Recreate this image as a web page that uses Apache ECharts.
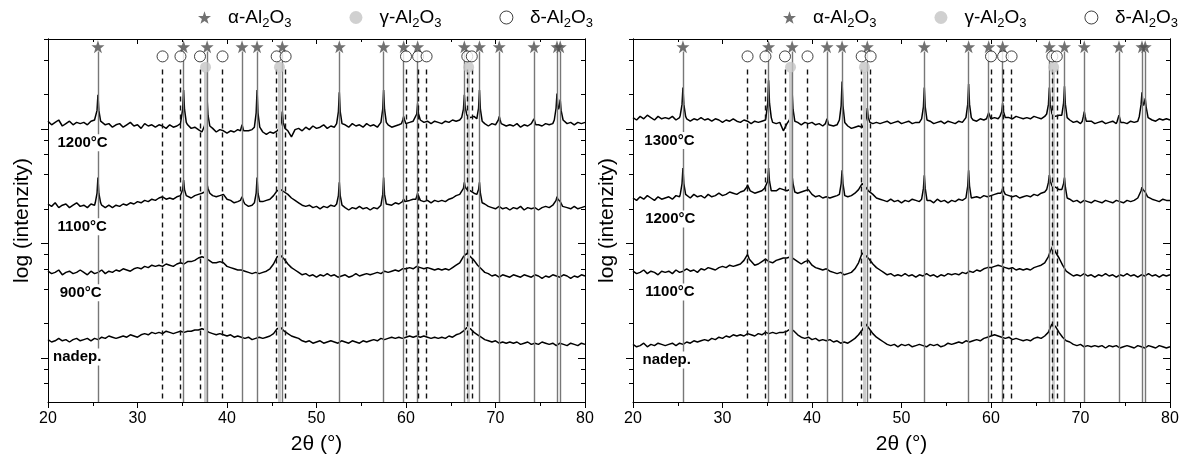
<!DOCTYPE html>
<html>
<head>
<meta charset="utf-8">
<script src="https://cdn.jsdelivr.net/npm/echarts@6/dist/echarts.min.js"></script>
<style>
html,body{margin:0;padding:0;background:#fff}
#chart{width:1191px;height:463px}
</style>
</head>
<body>
<div id="chart"></div>
<script>
// XRD scans: 2theta 20-80 deg, step 0.4, values = log(intensity) incl. stack offset
var start = 20, step = 0.4;

// reference positions (2theta)
var alphaPos = [25.58, 35.15, 37.78, 41.68, 43.36, 46.18, 52.55, 57.50, 59.74, 61.30, 66.52, 68.21, 70.42, 74.30, 76.87, 77.23];
var gammaPos = [37.6, 45.86, 67.0];
var deltaPos = [32.8, 34.8, 36.98, 39.5, 45.55, 46.55, 60.0, 61.35, 62.3, 66.85, 67.35];

// log ticks: decades and 2,4,6,8 in between
var yMajor = [1.207, 2.162, 3.117];
var yMinor = [0.995, 1.114, 1.494, 1.782, 1.950, 2.069, 2.449, 2.737, 2.905, 3.024, 3.404, 3.692, 3.86];

// left panel
var L1200 = [
3.18,3.15,3.17,3.19,3.14,3.16,3.18,3.15,3.17,3.16,
3.17,3.15,3.18,3.19,3.16,3.17,3.15,3.16,3.13,3.15,
3.16,3.13,3.15,3.17,3.14,3.15,3.12,3.16,3.14,3.15,
3.13,3.15,3.14,3.12,3.15,3.13,3.14,3.16,3.20,3.15,
3.12,3.13,3.11,3.09,3.15,3.12,3.12,3.09,3.11,3.10,
3.08,3.10,3.09,3.11,3.11,3.09,3.10,3.11,3.10,3.10,
3.09,3.07,3.09,3.08,3.10,3.10,3.10,3.10,3.05,3.11,
3.12,3.10,3.13,3.11,3.14,3.12,3.13,3.15,3.12,3.14,
3.13,3.13,3.14,3.15,3.13,3.16,3.14,3.15,3.13,3.16,
3.14,3.15,3.13,3.15,3.15,3.15,3.13,3.14,3.15,3.15,
3.17,3.17,3.18,3.18,3.18,3.17,3.18,3.16,3.18,3.17,
3.16,3.18,3.17,3.19,3.18,3.19,3.20,3.21,3.21,3.22,
3.20,3.18,3.16,3.14,3.16,3.15,3.15,3.16,3.14,3.15,
3.14,3.16,3.13,3.15,3.14,3.16,3.15,3.15,3.14,3.16,
3.15,3.16,3.18,3.18,3.18,3.16,3.17,3.15,3.17,3.16,
3.17];
var L1200pk = [
[[25.28,3.18],[25.48,3.27],[25.58,3.40],[25.68,3.27],[25.88,3.18]],
[[34.85,3.17],[35.05,3.28],[35.15,3.44],[35.25,3.28],[35.45,3.17]],
[[37.48,3.14],[37.68,3.23],[37.78,3.36],[37.88,3.23],[38.08,3.14]],
[[41.5,3.10],[41.68,3.15],[41.86,3.10]],
[[43.06,3.13],[43.26,3.25],[43.36,3.44],[43.46,3.25],[43.66,3.13]],
[[45.88,3.12],[46.08,3.17],[46.18,3.26],[46.28,3.17],[46.48,3.12]],
[[52.25,3.16],[52.45,3.26],[52.55,3.42],[52.65,3.26],[52.85,3.16]],
[[57.2,3.17],[57.4,3.28],[57.5,3.44],[57.6,3.28],[57.8,3.17]],
[[59.5,3.16],[59.64,3.19],[59.74,3.22],[59.84,3.19],[59.98,3.16]],
[[61.0,3.19],[61.2,3.24],[61.3,3.33],[61.4,3.24],[61.6,3.19]],
[[66.22,3.21],[66.42,3.28],[66.52,3.40],[66.62,3.29],[66.82,3.23]],
[[67.91,3.20],[68.11,3.29],[68.21,3.44],[68.31,3.28],[68.51,3.18]],
[[70.2,3.16],[70.32,3.19],[70.42,3.22],[70.52,3.19],[70.64,3.16]],
[[74.1,3.15],[74.3,3.20],[74.5,3.15]],
[[76.57,3.19],[76.77,3.29],[76.87,3.41],[76.97,3.30],[77.05,3.28],[77.13,3.30],[77.23,3.36],[77.33,3.27],[77.55,3.19]]
];

var L1100 = [
2.49,2.47,2.50,2.46,2.48,2.49,2.46,2.48,2.50,2.47,
2.48,2.46,2.49,2.48,2.50,2.48,2.46,2.48,2.46,2.48,
2.47,2.49,2.48,2.50,2.49,2.51,2.50,2.52,2.51,2.53,
2.52,2.54,2.55,2.53,2.54,2.53,2.55,2.56,2.60,2.55,
2.54,2.56,2.57,2.58,2.60,2.60,2.56,2.55,2.56,2.57,
2.53,2.52,2.50,2.51,2.52,2.49,2.47,2.48,2.50,2.50,
2.51,2.52,2.53,2.56,2.60,2.61,2.59,2.57,2.54,2.52,
2.50,2.48,2.47,2.48,2.46,2.47,2.45,2.47,2.46,2.48,
2.47,2.47,2.47,2.46,2.44,2.46,2.45,2.47,2.45,2.46,
2.44,2.46,2.45,2.47,2.47,2.49,2.48,2.50,2.49,2.51,
2.51,2.52,2.53,2.54,2.52,2.51,2.52,2.50,2.52,2.51,
2.52,2.51,2.53,2.54,2.56,2.57,2.60,2.61,2.60,2.58,
2.55,2.52,2.49,2.47,2.46,2.45,2.47,2.45,2.46,2.44,
2.46,2.45,2.47,2.44,2.46,2.45,2.46,2.44,2.46,2.47,
2.46,2.48,2.50,2.50,2.48,2.46,2.45,2.47,2.45,2.46,
2.47];
var L1100pk = [
[[25.28,2.50],[25.48,2.58],[25.58,2.71],[25.68,2.58],[25.88,2.50]],
[[34.85,2.56],[35.05,2.61],[35.15,2.69],[35.25,2.61],[35.45,2.56]],
[[37.48,2.59],[37.68,2.62],[37.78,2.65],[37.88,2.62],[38.08,2.58]],
[[41.5,2.52],[41.68,2.55],[41.86,2.51]],
[[43.06,2.50],[43.26,2.58],[43.36,2.71],[43.46,2.58],[43.66,2.51]],
[[52.25,2.49],[52.45,2.56],[52.55,2.67],[52.65,2.56],[52.85,2.48]],
[[57.2,2.48],[57.4,2.57],[57.5,2.71],[57.6,2.57],[57.8,2.49]],
[[59.6,2.51],[59.74,2.53],[59.88,2.51]],
[[61.1,2.53],[61.22,2.56],[61.3,2.58],[61.38,2.56],[61.6,2.52]],
[[66.22,2.58],[66.42,2.62],[66.52,2.67],[66.62,2.63],[66.82,2.61]],
[[67.91,2.57],[68.11,2.61],[68.21,2.67],[68.31,2.58],[68.51,2.50]],
[[76.57,2.48],[76.77,2.52],[76.87,2.55],[76.97,2.53],[77.23,2.51],[77.5,2.47]]
];

var L900 = [
1.93,1.91,1.92,1.94,1.90,1.92,1.93,1.91,1.92,1.94,
1.92,1.90,1.93,1.91,1.92,1.94,1.91,1.93,1.92,1.94,
1.93,1.95,1.94,1.93,1.95,1.96,1.95,1.97,1.96,1.98,
1.97,1.98,1.97,1.99,1.98,1.97,1.99,2.00,1.99,2.01,
2.01,2.02,2.04,2.05,2.04,2.02,2.00,2.00,2.01,2.00,
1.97,1.96,1.95,1.94,1.94,1.93,1.92,1.91,1.92,1.91,
1.92,1.93,1.95,1.99,2.05,2.06,2.03,1.99,1.96,1.94,
1.92,1.90,1.91,1.89,1.90,1.88,1.90,1.89,1.91,1.89,
1.90,1.88,1.89,1.90,1.88,1.89,1.91,1.89,1.90,1.91,
1.90,1.91,1.92,1.91,1.93,1.92,1.93,1.94,1.93,1.95,
1.95,1.96,1.95,1.97,1.96,1.95,1.96,1.95,1.94,1.95,
1.94,1.95,1.94,1.96,1.98,2.00,2.05,2.08,2.05,2.02,
1.98,1.95,1.92,1.91,1.89,1.90,1.88,1.90,1.89,1.88,
1.90,1.89,1.88,1.90,1.89,1.88,1.90,1.89,1.87,1.89,
1.88,1.90,1.89,1.88,1.90,1.89,1.87,1.89,1.88,1.90,
1.89];

var L0 = [
1.36,1.34,1.35,1.37,1.35,1.36,1.34,1.36,1.37,1.35,
1.36,1.37,1.35,1.37,1.36,1.38,1.37,1.39,1.38,1.37,
1.38,1.39,1.38,1.40,1.39,1.38,1.40,1.41,1.40,1.42,
1.41,1.42,1.41,1.43,1.42,1.41,1.42,1.43,1.42,1.43,
1.43,1.44,1.44,1.45,1.44,1.42,1.41,1.40,1.41,1.40,
1.39,1.40,1.38,1.39,1.38,1.37,1.38,1.36,1.37,1.38,
1.37,1.38,1.39,1.41,1.45,1.46,1.43,1.41,1.39,1.38,
1.37,1.35,1.34,1.35,1.33,1.34,1.35,1.33,1.34,1.35,
1.34,1.33,1.35,1.34,1.33,1.35,1.34,1.33,1.35,1.34,
1.35,1.36,1.35,1.37,1.36,1.37,1.38,1.37,1.38,1.37,
1.38,1.39,1.38,1.39,1.38,1.39,1.38,1.37,1.38,1.37,
1.38,1.37,1.39,1.38,1.40,1.41,1.43,1.46,1.45,1.42,
1.40,1.38,1.36,1.35,1.34,1.35,1.33,1.34,1.33,1.34,
1.33,1.34,1.32,1.33,1.34,1.32,1.33,1.32,1.34,1.33,
1.32,1.33,1.31,1.33,1.32,1.31,1.33,1.32,1.31,1.33,
1.32];

// right panel
var R1300 = [
3.21,3.19,3.22,3.20,3.23,3.21,3.19,3.22,3.20,3.21,
3.20,3.22,3.19,3.21,3.20,3.20,3.18,3.20,3.19,3.21,
3.19,3.20,3.18,3.20,3.19,3.17,3.19,3.18,3.20,3.18,
3.17,3.19,3.18,3.16,3.18,3.17,3.18,3.19,3.20,3.17,
3.16,3.17,3.10,3.16,3.20,3.20,3.17,3.15,3.17,3.16,
3.17,3.15,3.16,3.14,3.15,3.16,3.14,3.15,3.20,3.20,
3.14,3.12,3.13,3.14,3.13,3.20,3.20,3.16,3.17,3.16,
3.17,3.18,3.16,3.17,3.18,3.16,3.17,3.18,3.16,3.17,
3.17,3.20,3.20,3.18,3.16,3.17,3.18,3.16,3.18,3.17,
3.16,3.18,3.17,3.20,3.20,3.19,3.18,3.20,3.19,3.20,
3.20,3.21,3.20,3.20,3.20,3.21,3.20,3.22,3.21,3.20,
3.21,3.20,3.22,3.21,3.20,3.22,3.20,3.23,3.22,3.23,
3.20,3.20,3.19,3.17,3.18,3.16,3.20,3.17,3.18,3.16,
3.17,3.18,3.16,3.17,3.18,3.16,3.20,3.17,3.16,3.18,
3.17,3.18,3.20,3.20,3.20,3.19,3.18,3.20,3.19,3.20,
3.19];
var R1300pk = [
[[25.28,3.23],[25.48,3.32],[25.58,3.46],[25.68,3.32],[25.88,3.22]],
[[34.85,3.21],[35.05,3.33],[35.15,3.52],[35.25,3.33],[35.45,3.21]],
[[37.48,3.19],[37.68,3.28],[37.78,3.42],[37.88,3.28],[38.08,3.18]],
[[41.5,3.16],[41.68,3.20],[41.86,3.15]],
[[43.06,3.19],[43.26,3.31],[43.36,3.51],[43.46,3.31],[43.66,3.17]],
[[45.88,3.16],[46.08,3.21],[46.18,3.29],[46.28,3.21],[46.48,3.17]],
[[52.25,3.20],[52.45,3.30],[52.55,3.46],[52.65,3.30],[52.85,3.19]],
[[57.2,3.21],[57.4,3.32],[57.5,3.49],[57.6,3.32],[57.8,3.21]],
[[59.5,3.20],[59.64,3.23],[59.74,3.25],[59.84,3.23],[59.98,3.20]],
[[61.0,3.22],[61.2,3.26],[61.3,3.33],[61.4,3.26],[61.6,3.21]],
[[66.22,3.24],[66.42,3.32],[66.52,3.46],[66.62,3.32],[66.82,3.24]],
[[67.91,3.23],[68.11,3.33],[68.21,3.47],[68.31,3.32],[68.51,3.21]],
[[70.2,3.18],[70.32,3.22],[70.42,3.26],[70.52,3.22],[70.64,3.18]],
[[74.1,3.18],[74.3,3.23],[74.5,3.17]],
[[76.57,3.22],[76.77,3.32],[76.87,3.42],[76.97,3.33],[77.05,3.31],[77.13,3.33],[77.23,3.37],[77.33,3.30],[77.55,3.21]]
];

var R1200 = [
2.54,2.52,2.55,2.53,2.56,2.54,2.52,2.55,2.53,2.54,
2.55,2.53,2.56,2.55,2.60,2.56,2.54,2.57,2.55,2.56,
2.54,2.57,2.55,2.56,2.58,2.56,2.57,2.59,2.58,2.57,
2.59,2.60,2.62,2.60,2.58,2.59,2.60,2.62,2.60,2.59,
2.60,2.62,2.61,2.60,2.60,2.60,2.58,2.59,2.60,2.61,
2.57,2.55,2.56,2.54,2.55,2.54,2.55,2.56,2.60,2.60,
2.55,2.56,2.58,2.61,2.66,2.63,2.61,2.57,2.54,2.53,
2.52,2.51,2.53,2.51,2.52,2.50,2.52,2.51,2.53,2.52,
2.51,2.50,2.50,2.52,2.50,2.53,2.51,2.52,2.50,2.52,
2.51,2.53,2.52,2.50,2.50,2.54,2.55,2.54,2.56,2.55,
2.56,2.57,2.58,2.60,2.60,2.56,2.55,2.56,2.54,2.55,
2.56,2.55,2.57,2.56,2.58,2.59,2.60,2.60,2.63,2.61,
2.60,2.60,2.53,2.51,2.52,2.50,2.52,2.51,2.50,2.52,
2.51,2.50,2.52,2.51,2.50,2.52,2.51,2.50,2.52,2.51,
2.52,2.54,2.60,2.60,2.55,2.53,2.52,2.51,2.53,2.52,
2.52];
var R1200pk = [
[[25.28,2.57],[25.48,2.66],[25.58,2.79],[25.68,2.66],[25.88,2.57]],
[[32.5,2.60],[32.7,2.63],[32.8,2.65],[32.9,2.63],[33.1,2.60]],
[[34.5,2.60],[34.7,2.62],[34.9,2.62],[35.05,2.68],[35.15,2.79],[35.25,2.68],[35.45,2.60]],
[[37.48,2.61],[37.68,2.66],[37.78,2.72],[37.88,2.66],[38.08,2.59]],
[[43.06,2.57],[43.26,2.66],[43.36,2.77],[43.46,2.66],[43.66,2.56]],
[[46.05,2.62],[46.18,2.64],[46.3,2.60]],
[[52.25,2.53],[52.45,2.62],[52.55,2.73],[52.65,2.62],[52.85,2.52]],
[[57.2,2.54],[57.4,2.64],[57.5,2.77],[57.6,2.64],[57.8,2.54]],
[[61.1,2.58],[61.22,2.60],[61.3,2.62],[61.4,2.60],[61.6,2.57]],
[[66.22,2.61],[66.42,2.67],[66.52,2.73],[66.62,2.68],[66.82,2.64]],
[[67.91,2.61],[68.11,2.66],[68.21,2.71],[68.31,2.63],[68.51,2.54]],
[[76.57,2.54],[76.77,2.60],[76.87,2.63],[76.97,2.61],[77.23,2.59],[77.5,2.55]]
];

var R1100 = [
1.93,1.91,1.92,1.94,1.91,1.93,1.92,1.90,1.93,1.92,
1.93,1.91,1.94,1.92,1.93,1.95,1.93,1.94,1.92,1.95,
1.94,1.96,1.95,1.94,1.96,1.97,1.96,1.98,1.97,1.98,
1.99,2.02,2.06,2.02,1.98,1.99,2.01,2.03,2.01,2.00,
2.02,2.03,2.04,2.04,2.05,2.03,2.01,1.99,2.01,2.02,
1.98,1.96,1.95,1.94,1.95,1.93,1.92,1.91,1.92,1.90,
1.91,1.92,1.95,2.00,2.08,2.06,2.03,1.99,1.96,1.94,
1.92,1.90,1.91,1.89,1.90,1.89,1.91,1.89,1.90,1.88,
1.90,1.89,1.91,1.89,1.90,1.88,1.90,1.89,1.91,1.90,
1.91,1.90,1.92,1.91,1.93,1.92,1.94,1.93,1.95,1.96,
1.96,1.97,1.98,1.97,1.96,1.95,1.96,1.94,1.95,1.94,
1.95,1.94,1.96,1.97,1.98,2.00,2.05,2.13,2.09,2.04,
1.98,1.93,1.91,1.89,1.90,1.89,1.91,1.89,1.90,1.88,
1.90,1.89,1.91,1.89,1.90,1.88,1.90,1.89,1.91,1.89,
1.90,1.88,1.90,1.89,1.91,1.89,1.90,1.88,1.90,1.89,
1.90];
var R1100pk = [
[[32.6,2.03],[32.8,2.07],[33.0,2.03]],
[[66.6,2.09],[66.9,2.14],[67.1,2.11]]
];

var R0 = [
1.32,1.30,1.31,1.33,1.30,1.32,1.31,1.33,1.32,1.31,
1.32,1.33,1.31,1.33,1.32,1.34,1.33,1.35,1.34,1.35,
1.36,1.35,1.37,1.36,1.38,1.37,1.39,1.38,1.40,1.39,
1.40,1.39,1.41,1.40,1.39,1.41,1.40,1.42,1.41,1.42,
1.41,1.42,1.42,1.43,1.45,1.43,1.40,1.38,1.37,1.38,
1.36,1.37,1.35,1.36,1.35,1.36,1.34,1.35,1.33,1.34,
1.33,1.35,1.37,1.40,1.44,1.49,1.45,1.41,1.38,1.36,
1.34,1.32,1.31,1.32,1.30,1.32,1.31,1.32,1.30,1.31,
1.32,1.31,1.30,1.32,1.31,1.32,1.30,1.31,1.33,1.32,
1.33,1.34,1.33,1.35,1.34,1.35,1.36,1.35,1.37,1.38,
1.39,1.40,1.39,1.38,1.37,1.38,1.36,1.37,1.36,1.35,
1.36,1.35,1.37,1.38,1.37,1.39,1.42,1.49,1.47,1.42,
1.38,1.35,1.34,1.32,1.31,1.32,1.30,1.31,1.30,1.31,
1.30,1.31,1.29,1.31,1.30,1.31,1.29,1.30,1.31,1.30,
1.29,1.31,1.30,1.29,1.31,1.30,1.29,1.31,1.30,1.29,
1.30];

var leftNames = ['1200°C', '1100°C', '900°C', 'nadep.'];
var rightNames = ['1300°C', '1200°C', '1100°C', 'nadep.'];

var yMin = 0.84, yMax = 3.865;
var starY = 3.80, deltaMarkY = 3.72, gammaMarkY = 3.63;
var alphaTop = 3.76, deltaTop = 3.61, gammaTop = 3.59;
var font = 'Liberation Sans, Arial, sans-serif';
var starPath = 'path://M0,-10L2.35,-3.24L9.51,-3.09L3.8,1.24L5.88,8.09L0,4L-5.88,8.09L-3.8,1.24L-9.51,-3.09L-2.35,-3.24Z';

function trace(base, peaks) {
    var pts = base.map(function (v, i) { return [+(start + i * step).toFixed(2), v]; });
    (peaks || []).forEach(function (pk) {
        var lo = pk[0][0], hi = pk[pk.length - 1][0];
        pts = pts.filter(function (p) { return p[0] < lo || p[0] > hi; }).concat(pk);
    });
    pts.sort(function (a, b) { return a[0] - b[0]; });
    return pts;
}

function vlines(g, pos, top, style) {
    return {
        type: 'line', xAxisIndex: g * 2, yAxisIndex: g * 4, data: [], silent: true, z: 2,
        markLine: {
            silent: true, symbol: ['none', 'none'], label: {show: false}, lineStyle: style,
            emphasis: {disabled: true}, animation: false,
            data: pos.map(function (x) { return [{coord: [x, top]}, {coord: [x, yMin]}]; })
        }
    };
}

function marks(g, name, pos, y, symbol, size, itemStyle) {
    return {
        name: name, type: 'scatter', xAxisIndex: g * 2, yAxisIndex: g * 4, z: 6,
        symbol: symbol, symbolSize: size, itemStyle: itemStyle, silent: true,
        data: pos.map(function (x) { return [x, y]; })
    };
}

var series = [];
var xAxes = [], yAxes = [], grids = [], legends = [];

function panel(g, left, traces, names, labelAt) {
    grids.push({left: left, top: 39, width: 537, height: 363, outerBoundsMode: 'none'});
    var axLine = {show: true, lineStyle: {color: '#000', width: 1}};
    xAxes.push({
        gridIndex: g, type: 'value', min: 20, max: 80, interval: 10, position: 'bottom',
        axisLine: axLine, splitLine: {show: false},
        axisTick: {length: 6, lineStyle: {color: '#000'}},
        minorTick: {show: true, splitNumber: 2, length: 4, lineStyle: {color: '#000'}},
        axisLabel: {color: '#000', fontSize: 16, margin: 9, fontFamily: font},
        name: '2θ (°)', nameLocation: 'middle', nameGap: 32,
        nameTextStyle: {color: '#000', fontSize: 21, fontFamily: font}
    });
    xAxes.push({
        gridIndex: g, type: 'value', min: 20, max: 80, interval: 10, position: 'top',
        axisLine: axLine, splitLine: {show: false}, axisLabel: {show: false},
        axisTick: {inside: true, length: 5, lineStyle: {color: '#000'}},
        minorTick: {show: true, splitNumber: 2, length: 3, lineStyle: {color: '#000'}}
    });
    [['left', false], ['right', true]].forEach(function (s) {
        [[yMajor, 7], [yMinor, 4]].forEach(function (t, k) {
            var ax = {
                gridIndex: g, type: 'value', min: yMin, max: yMax, position: s[0],
                axisLine: axLine, splitLine: {show: false}, axisLabel: {show: false},
                axisTick: {inside: s[1], length: t[1], customValues: t[0], lineStyle: {color: '#000'}}
            };
            if (s[0] === 'left' && k === 0) {
                ax.name = 'log (intenzity)';
                ax.nameLocation = 'middle';
                ax.nameGap = 15;
                ax.nameTextStyle = {color: '#000', fontSize: 21, fontFamily: font};
            }
            yAxes.push(ax);
        });
    });

    series.push(vlines(g, gammaPos, gammaTop, {color: '#cccccc', width: 3, type: 'solid'}));
    series.push(vlines(g, alphaPos, alphaTop, {color: '#777', width: 1.4, type: 'solid'}));
    series.push(vlines(g, deltaPos, deltaTop, {color: '#111', width: 1.4, type: [5, 4]}));

    traces.forEach(function (tr) {
        series.push({
            type: 'line', xAxisIndex: g * 2, yAxisIndex: g * 4, data: tr, z: 3,
            showSymbol: false, silent: true, lineStyle: {color: '#000', width: 1.5}
        });
    });

    series.push({
        type: 'scatter', xAxisIndex: g * 2, yAxisIndex: g * 4, z: 5, silent: true,
        symbolSize: 0, itemStyle: {color: '#000', opacity: 1},
        label: {show: true, position: 'right', distance: 0, color: '#000', fontSize: 15,
            fontWeight: 'bold', fontFamily: font, backgroundColor: '#fff', padding: [1, 1],
            opacity: 1, textBorderWidth: 0},
        data: names.map(function (n, i) {
            return {value: labelAt[i], label: {formatter: n}};
        })
    });

    series.push(marks(g, 'α-Al2O3', alphaPos, starY, starPath, 13, {color: '#4d4d4d'}));
    series.push(marks(g, 'γ-Al2O3', gammaPos, gammaMarkY, 'circle', 11, {color: '#c4c4c4'}));
    series.push(marks(g, 'δ-Al2O3', deltaPos, deltaMarkY, 'circle', 11,
        {color: '#fff', borderColor: '#111', borderWidth: 1}));

    legends.push({
        left: left + 145, top: 3, itemWidth: 13, itemHeight: 13, itemGap: 58, selectedMode: false,
        data: [
            {name: 'α-Al2O3', icon: starPath},
            {name: 'γ-Al2O3', icon: 'circle'},
            {name: 'δ-Al2O3', icon: 'circle', itemStyle: {color: '#fff', borderColor: '#111', borderWidth: 1}}
        ],
        formatter: function (name) {
            return '{p|}{t|' + name.charAt(0) + '-Al}{s|2}{t|O}{s|3}';
        },
        textStyle: {
            color: '#000', fontFamily: font, fontSize: 19,
            rich: {
                p: {width: 12},
                t: {fontSize: 19, lineHeight: 24, fontFamily: font, color: '#000'},
                s: {fontSize: 13, lineHeight: 13, verticalAlign: 'bottom', fontFamily: font, color: '#000'}
            }
        }
    });
}

panel(0, 48, [trace(L1200, L1200pk), trace(L1100, L1100pk), trace(L900), trace(L0)], leftNames,
    [[20.95, 3.0], [20.95, 2.30], [21.2, 1.75], [20.45, 1.215]]);
panel(1, 633, [trace(R1300, R1300pk), trace(R1200, R1200pk), trace(R1100, R1100pk), trace(R0)], rightNames,
    [[21.15, 3.02], [21.25, 2.365], [21.25, 1.757], [20.95, 1.19]]);

var myChart = echarts.init(document.getElementById('chart'));
myChart.setOption({
    backgroundColor: '#fff',
    animation: false,
    grid: grids,
    xAxis: xAxes,
    yAxis: yAxes,
    legend: legends,
    series: series
});
</script>
</body>
</html>
